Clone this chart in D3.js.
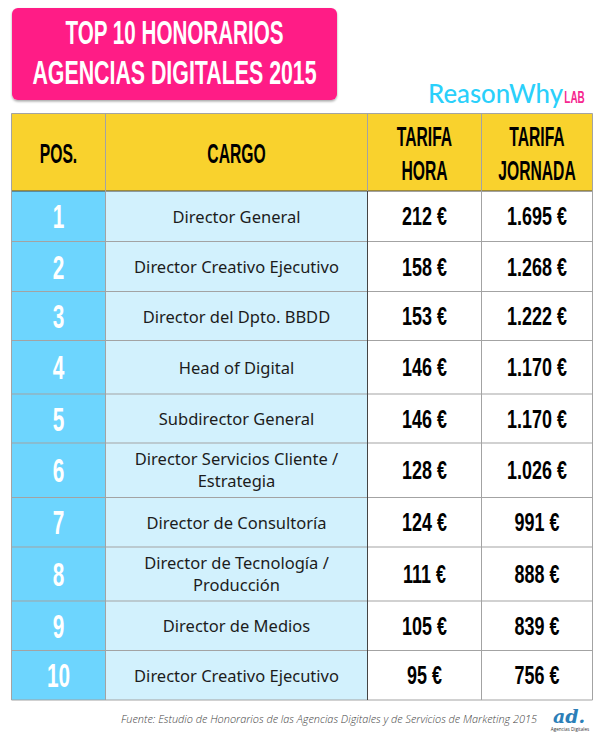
<!DOCTYPE html>
<html>
<head>
<meta charset="utf-8">
<script src="https://cdn.jsdelivr.net/npm/d3@7"></script>
<style>
  html, body { margin: 0; padding: 0; background: #fff; }
  svg { display: block; }
  text { text-anchor: middle; }
  .cond { font-family: "Liberation Sans Narrow", "Liberation Sans", sans-serif; font-weight: 700; }
  .cargo { font-family: "Noto Sans", "Open Sans", sans-serif; font-size: 16.5px; fill: #1c1c1c; }
</style>
</head>
<body>
<svg id="chart" width="601" height="738"></svg>
<script>
const titleLines = ["TOP 10 HONORARIOS", "AGENCIAS DIGITALES 2015"];
const headers = [["POS."], ["CARGO"], ["TARIFA", "HORA"], ["TARIFA", "JORNADA"]];
const positions = ["1", "2", "3", "4", "5", "6", "7", "8", "9", "10"];
const cargos = [
    ["Director General"],
    ["Director Creativo Ejecutivo"],
    ["Director del Dpto. BBDD"],
    ["Head of Digital"],
    ["Subdirector General"],
    ["Director Servicios Cliente /", "Estrategia"],
    ["Director de Consultoría"],
    ["Director de Tecnología /", "Producción"],
    ["Director de Medios"],
    ["Director Creativo Ejecutivo"]
];
const tarifaHora = ["212 €", "158 €", "153 €", "146 €", "146 €", "128 €", "124 €", "111 €", "105 €", "95 €"];
const tarifaJornada = ["1.695 €", "1.268 €", "1.222 €", "1.170 €", "1.170 €", "1.026 €", "991 €", "888 €", "839 €", "756 €"];
const source = "Fuente: Estudio de Honorarios de las Agencias Digitales y de Servicios de Marketing 2015";

// table grid
const colEdges = [11.5, 105.5, 367.5, 481.5, 592.5];
const rowEdges = [113.5, 191, 241.5, 291.5, 340.5, 394, 443, 497.5, 547, 601, 650.5, 700];

const svg = d3.select("#chart");
const colFills = ["#6dd5fe", "#d2f1fd", "#ffffff", "#ffffff"];

// condensed display lettering, squeezed horizontally
function cond(g, str, x, y, size, fill, squeeze) {
    g.append("text")
        .attr("class", "cond")
        .attr("transform", `translate(${x},${y}) scale(${squeeze},1)`)
        .attr("font-size", size)
        .attr("fill", fill)
        .text(str);
}

// title box
const defs = svg.append("defs");
const shadow = defs.append("filter").attr("id", "shadow").attr("x", "-5%").attr("y", "-5%").attr("width", "110%").attr("height", "115%");
shadow.append("feDropShadow").attr("dx", 0).attr("dy", 1.5).attr("stdDeviation", 1.2).attr("flood-color", "#000").attr("flood-opacity", 0.35);
svg.append("rect")
    .attr("x", 12).attr("y", 8).attr("width", 325).attr("height", 92).attr("rx", 6)
    .attr("fill", "#ff1a86").attr("filter", "url(#shadow)");
titleLines.forEach((t, i) => cond(svg, t, 174.5, 43.5 + i * 40, 33, "#fff", i ? 0.647 : 0.625));

// logo
svg.append("text").attr("x", 428).attr("y", 103).style("text-anchor", "start")
    .attr("font-family", "Lato, sans-serif").attr("font-size", 26).attr("font-weight", 500)
    .attr("fill", "#2ad0fb").text("ReasonWhy")
    .attr("textLength", 135).attr("lengthAdjust", "spacingAndGlyphs");
cond(svg, "LAB", 574.5, 103, 16, "#f6278f", 0.62);

const table = svg.append("g");

// header cells
table.selectAll(".head")
    .data(headers)
    .enter().append("rect")
    .attr("class", "head")
    .attr("x", (d, i) => colEdges[i])
    .attr("y", rowEdges[0])
    .attr("width", (d, i) => colEdges[i + 1] - colEdges[i])
    .attr("height", rowEdges[1] - rowEdges[0])
    .attr("fill", "#f9d22d");

// body cells
positions.forEach((p, r) => {
    colFills.forEach((fill, c) => {
        table.append("rect")
            .attr("x", colEdges[c])
            .attr("y", rowEdges[r + 1])
            .attr("width", colEdges[c + 1] - colEdges[c])
            .attr("height", rowEdges[r + 2] - rowEdges[r + 1])
            .attr("fill", fill);
    });
});

// grid lines
const gridColor = "#a3a3a3";
rowEdges.forEach(y => {
    table.append("line").attr("x1", colEdges[0]).attr("x2", colEdges[4]).attr("y1", y).attr("y2", y)
        .attr("stroke", y === rowEdges[1] ? "#444" : gridColor).attr("stroke-width", 1);
});
colEdges.forEach(x => {
    table.append("line").attr("x1", x).attr("x2", x).attr("y1", rowEdges[0]).attr("y2", rowEdges[11])
        .attr("stroke", gridColor).attr("stroke-width", 1);
});
table.append("line").attr("x1", colEdges[2]).attr("x2", colEdges[2]).attr("y1", rowEdges[1]).attr("y2", rowEdges[11])
    .attr("stroke", "#444").attr("stroke-width", 1);

const mid = c => (colEdges[c] + colEdges[c + 1]) / 2;

// header text
headers.forEach((lines, c) => {
    const cy = (rowEdges[0] + rowEdges[1]) / 2;
    lines.forEach((t, i) => {
        const y = cy + 10.5 + (i - (lines.length - 1) / 2) * 34;
        cond(table, t, mid(c), y, 27, "#000", 0.58);
    });
});

// body text
positions.forEach((p, r) => {
    const cy = (rowEdges[r + 1] + rowEdges[r + 2]) / 2;
    cond(table, p, mid(0), cy + 12, 33, "#fff", 0.63);
    const two = cargos[r].length > 1;
    cargos[r].forEach((t, i) => {
        const y = cy + (two ? 5.5 : 6.5) + (i - (cargos[r].length - 1) / 2) * 22;
        table.append("text").attr("class", "cargo").attr("x", mid(1)).attr("y", y).text(t);
    });
    cond(table, tarifaHora[r], mid(2), cy + 9, 26, "#000", 0.69);
    cond(table, tarifaJornada[r], mid(3), cy + 9, 26, "#000", 0.69);
});

// source + small logo
svg.append("text").attr("x", 537).attr("y", 723).style("text-anchor", "end")
    .attr("font-family", "'Open Sans', sans-serif").attr("font-style", "italic").attr("font-weight", 300)
    .attr("font-size", 10.9).attr("fill", "#444").text(source);
svg.append("text").attr("x", 569).attr("y", 723)
    .attr("font-family", "'DejaVu Serif', serif").attr("font-style", "italic").attr("font-weight", 700)
    .attr("font-size", 19).attr("fill", "#2c7fb8").text("ad.");
svg.append("text").attr("x", 570).attr("y", 731)
    .attr("font-family", "'Open Sans', sans-serif").attr("font-size", 4.6).attr("fill", "#333").text("Agencias Digitales");
</script>
</body>
</html>
